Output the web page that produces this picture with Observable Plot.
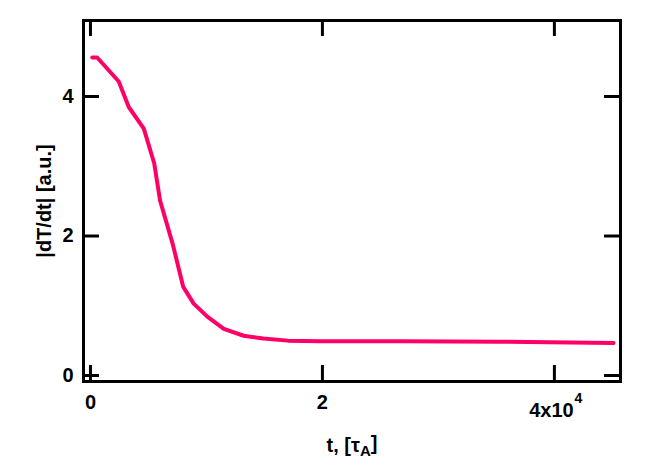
<!DOCTYPE html>
<html>
<head>
<meta charset="utf-8">
<script src="https://cdn.jsdelivr.net/npm/d3@7"></script>
<script src="https://cdn.jsdelivr.net/npm/@observablehq/plot@0.6"></script>
<style>
  html, body { margin: 0; padding: 0; background: #fff; }
  #chart { width: 664px; height: 471px; }
</style>
</head>
<body>
<div id="chart"></div>
<script>
// Data
const tValues = [150, 580, 2440, 3300, 4600, 5500, 6000, 7100, 8000, 8900, 10100, 11500, 13200, 14900, 17000, 19800, 27000, 35300, 45100];
const dTdtValues = [4.56, 4.56, 4.215, 3.85, 3.54, 3.04, 2.51, 1.88, 1.27, 1.03, 0.84, 0.67, 0.57, 0.53, 0.50, 0.49, 0.49, 0.485, 0.466];

const xTicks = [0, 20000, 40000];
const xTickLabels = ["0", "2", "4x10"];
const xExponent = ["4"];
const yTicks = [0, 2, 4];
const yTickLabels = ["0", "2", "4"];
const xLabel = "t, [τA]";
const yLabel = "|dT/dt| [a.u.]";
const lineColor = "#ff0066";

const data = tValues.map((t, i) => ({t, v: dTdtValues[i]}));

const W = 664, H = 471;
const mL = 83, mR = 44, mT = 20, mB = 90;
const plotW = W - mL - mR, plotH = H - mT - mB;
const tickLen = 16;

const xLabelsMain = xTicks.slice(0, 2).map((x, i) => ({x, label: xTickLabels[i]}));
const xLabelSci = [{x: xTicks[2], label: xTickLabels[2], exp: xExponent[0]}];

const chart = Plot.plot({
  width: W,
  height: H,
  marginLeft: mL,
  marginRight: mR,
  marginTop: mT,
  marginBottom: mB,
  style: {fontFamily: "Liberation Sans, Arial, sans-serif", fontSize: "20px", fontWeight: "bold", color: "black", background: "white"},
  x: {domain: [-600, 45700]},
  y: {domain: [-0.086, 5.09]},
  marks: [
    Plot.axisY(yTicks, {tickSize: 0, tickPadding: 10, tickFormat: (d) => yTickLabels[yTicks.indexOf(d)], label: yLabel, labelAnchor: "center", labelOffset: 47, labelArrow: "none", fontSize: 20}),
    Plot.axisX(xTicks, {tickSize: 0, tickFormat: () => "", label: xLabel, labelAnchor: "center", labelOffset: 70, labelArrow: "none", fontSize: 20}),
    Plot.text(xLabelsMain, {x: "x", text: "label", frameAnchor: "bottom", dy: 27, fontSize: 20, fontWeight: "bold"}),
    Plot.text(xLabelSci, {x: "x", text: "label", frameAnchor: "bottom", dy: 35, dx: -3, fontSize: 20, fontWeight: "bold"}),
    Plot.text(xLabelSci, {x: "x", text: "exp", frameAnchor: "bottom", dy: 21, dx: 24, fontSize: 14, fontWeight: "bold"}),
    Plot.ruleX(xTicks, {insetTop: plotH - tickLen, stroke: "black", strokeWidth: 3}),
    Plot.ruleX(xTicks, {insetBottom: plotH - tickLen, stroke: "black", strokeWidth: 3}),
    Plot.ruleY(yTicks, {insetRight: plotW - tickLen, stroke: "black", strokeWidth: 3}),
    Plot.ruleY(yTicks, {insetLeft: plotW - tickLen, stroke: "black", strokeWidth: 3}),
    Plot.line(data, {x: "t", y: "v", stroke: lineColor, strokeWidth: 4, curve: "linear", strokeLinejoin: "round"}),
    Plot.frame({stroke: "black", strokeWidth: 3})
  ]
});

// Render subscript in the x-axis label
chart.querySelectorAll("text").forEach(el => {
  if (el.textContent === xLabel) {
    el.textContent = "";
    const ns = "http://www.w3.org/2000/svg";
    const a = document.createElementNS(ns, "tspan");
    a.textContent = "t, [τ";
    const b = document.createElementNS(ns, "tspan");
    b.textContent = "A";
    b.setAttribute("dy", "0.3em");
    b.setAttribute("font-size", "15");
    const c = document.createElementNS(ns, "tspan");
    c.textContent = "]";
    c.setAttribute("dy", "-0.3em");
    el.appendChild(a); el.appendChild(b); el.appendChild(c);
  }
});

document.getElementById("chart").appendChild(chart);
</script>
</body>
</html>
